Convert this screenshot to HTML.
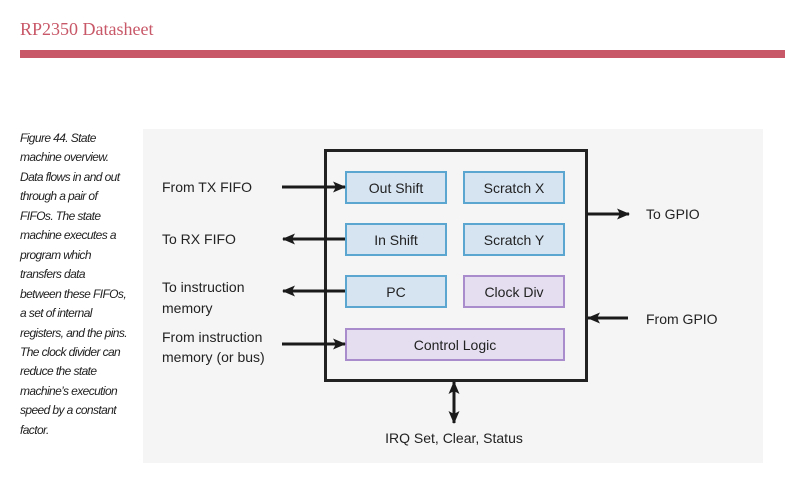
<!DOCTYPE html>
<html><head><style>
html,body{margin:0;padding:0;background:#fff;width:785px;height:482px;overflow:hidden;position:relative;font-family:"Liberation Sans",sans-serif}
.h{position:absolute;left:20px;top:19px;font-family:"Liberation Serif",serif;font-size:18px;color:#c85868}
.bar{position:absolute;left:20px;top:50px;width:765px;height:8px;background:#c85868}
.cap{position:absolute;left:20px;top:129px;width:122px;font-style:italic;font-size:12px;line-height:19.45px;color:#222;letter-spacing:-0.6px}
.bg{position:absolute;left:143px;top:129px;width:620px;height:334px;background:#f5f5f5}
svg{position:absolute;left:0;top:0}
</style></head><body>
<div class="h">RP2350 Datasheet</div>
<div class="bar"></div>
<div class="cap">Figure 44. State<br>machine overview.<br>Data flows in and out<br>through a pair of<br>FIFOs. The state<br>machine executes a<br>program which<br>transfers data<br>between these FIFOs,<br>a set of internal<br>registers, and the pins.<br>The clock divider can<br>reduce the state<br>machine’s execution<br>speed by a constant<br>factor.</div>
<div class="bg"></div>
<svg width="785" height="482" font-family="Liberation Sans, sans-serif" font-size="14" fill="#222">
<defs><marker id="a" markerWidth="13" markerHeight="11" refX="12" refY="5.5" orient="auto" markerUnits="userSpaceOnUse"><path d="M0,0 L13,5.5 L0,11 L3,5.5z" fill="#1a1a1a"/></marker></defs>
<rect x="325.5" y="150.5" width="261" height="230" fill="none" stroke="#222" stroke-width="3"/>
<g stroke-width="2">
<rect x="346" y="172" width="100" height="31" fill="#d6e4f2" stroke="#5aa6d0"/>
<rect x="464" y="172" width="100" height="31" fill="#d6e4f2" stroke="#5aa6d0"/>
<rect x="346" y="224" width="100" height="31" fill="#d6e4f2" stroke="#5aa6d0"/>
<rect x="464" y="224" width="100" height="31" fill="#d6e4f2" stroke="#5aa6d0"/>
<rect x="346" y="276" width="100" height="31" fill="#d6e4f2" stroke="#5aa6d0"/>
<rect x="464" y="276" width="100" height="31" fill="#e4def0" stroke="#a98ccc"/>
<rect x="346" y="329" width="218" height="31" fill="#e4def0" stroke="#a98ccc"/>
</g>
<g text-anchor="middle">
<text x="396" y="193">Out Shift</text><text x="514" y="193">Scratch X</text>
<text x="396" y="245">In Shift</text><text x="514" y="245">Scratch Y</text>
<text x="396" y="297">PC</text><text x="514" y="297">Clock Div</text>
<text x="455" y="350">Control Logic</text>
<text x="454" y="443">IRQ Set, Clear, Status</text>
</g>
<g stroke="#1a1a1a" stroke-width="3">
<line x1="282" y1="187" x2="345" y2="187" marker-end="url(#a)"/>
<line x1="345" y1="239" x2="283" y2="239" marker-end="url(#a)"/>
<line x1="345" y1="291" x2="283" y2="291" marker-end="url(#a)"/>
<line x1="282" y1="344" x2="345" y2="344" marker-end="url(#a)"/>
<line x1="587" y1="214" x2="629" y2="214" marker-end="url(#a)"/>
<line x1="628" y1="318" x2="588" y2="318" marker-end="url(#a)"/>
<line x1="454" y1="400" x2="454" y2="382" marker-end="url(#a)"/>
<line x1="454" y1="400" x2="454" y2="423" marker-end="url(#a)"/>
</g>
<text x="162" y="192">From TX FIFO</text>
<text x="162" y="244">To RX FIFO</text>
<text x="162" y="292">To instruction</text><text x="162" y="313">memory</text>
<text x="162" y="342">From instruction</text><text x="162" y="362">memory (or bus)</text>
<text x="646" y="219">To GPIO</text>
<text x="646" y="324">From GPIO</text>
</svg>
</body></html>
